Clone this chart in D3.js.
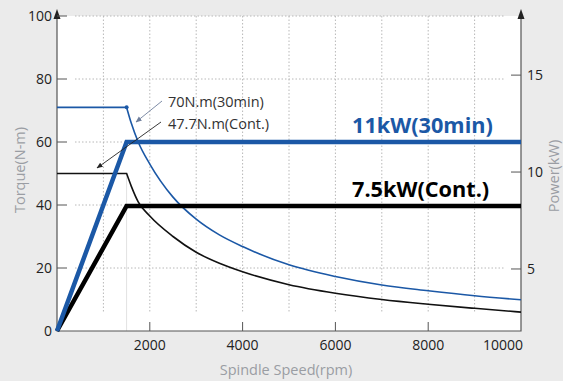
<!DOCTYPE html>
<html>
<head>
<meta charset="utf-8">
<script src="https://cdn.jsdelivr.net/npm/d3@7"></script>
<style>
  body { margin: 0; background: #ebebeb; }
  svg { display: block; font-family: "Open Sans", "Noto Sans", sans-serif; }
</style>
</head>
<body>
<svg id="chart" width="563" height="381"></svg>
<script>
// speed (rpm) for the torque curves
const speeds = [0, 1500, 1600, 1750, 2000, 2500, 3000, 3500, 4000, 5000, 6000, 7000, 8000, 9000, 10000];
// torque 30min (N-m)
const torque30 = [71, 71, 66, 60, 53, 42.5, 35.5, 30.5, 26.8, 21, 17.3, 14.6, 12.8, 11.2, 9.9];
// torque continuous (N-m)
const torqueCont = [50, 50, 46, 41, 36.5, 30, 25, 21.5, 18.8, 14.7, 12, 10, 8.5, 7.2, 6];

// power lines (kW, on right axis as drawn)
const powerSpeeds = [0, 1500, 10000];
const power30 = [1.8, 11.55, 11.55];
const powerCont = [1.8, 8.25, 8.25];

const xTicks = [2000, 4000, 6000, 8000, 10000];
const xGrid = [1000, 2000, 3000, 4000, 5000, 6000, 7000, 8000, 9000];
const yTicks = [0, 20, 40, 60, 80, 100];
const pTicks = [5, 10, 15];

const blue = '#1b58a6';

const svg = d3.select('#chart');
const mLeft = 57, mRight = 521, mTop = 16, mBottom = 331;

const x = d3.scaleLinear().domain([0, 10000]).range([mLeft, mRight]);
const y = d3.scaleLinear().domain([0, 100]).range([mBottom, mTop]);
const yP = d3.scaleLinear().domain([1.8, 18.05]).range([mBottom, mTop]);

// plot area
svg.append('rect')
  .attr('x', mLeft).attr('y', mTop)
  .attr('width', mRight - mLeft).attr('height', mBottom - mTop)
  .attr('fill', '#fff');

// grid
svg.append('g').selectAll('line').data(xGrid).join('line')
  .attr('x1', d => x(d)).attr('x2', d => x(d))
  .attr('y1', mTop).attr('y2', 312)
  .attr('stroke', '#b8b8b8').attr('stroke-dasharray', '1.5,2');
svg.append('g').selectAll('line').data(yTicks.slice(1)).join('line')
  .attr('x1', 75).attr('x2', 505)
  .attr('y1', d => y(d)).attr('y2', d => y(d))
  .attr('stroke', '#b8b8b8').attr('stroke-dasharray', '1.5,2');

// base speed line
svg.append('line')
  .attr('x1', x(1500)).attr('x2', x(1500))
  .attr('y1', y(50)).attr('y2', mBottom)
  .attr('stroke', '#e2e2e2');

// axes
const axisColor = '#555';
svg.append('path')
  .attr('d', `M${mLeft},${mTop}V${mBottom}H${mRight}V${mTop}`)
  .attr('fill', 'none').attr('stroke', axisColor).attr('stroke-width', 1.2);
[mLeft, mRight].forEach(ax => {
  svg.append('path')
    .attr('d', `M${ax},${mTop - 7}L${ax - 3.5},${mTop + 3}L${ax + 3.5},${mTop + 3}Z`)
    .attr('fill', '#222');
});

// left ticks
const gy = svg.append('g');
gy.selectAll('line').data(yTicks.slice(1)).join('line')
  .attr('x1', mLeft).attr('x2', mLeft + 10)
  .attr('y1', d => y(d)).attr('y2', d => y(d))
  .attr('stroke', axisColor);
gy.selectAll('text').data(yTicks).join('text')
  .attr('x', mLeft - 5).attr('y', d => y(d) + 5)
  .attr('text-anchor', 'end').attr('font-size', 14).attr('fill', '#222')
  .text(d => d);

// right ticks
const gp = svg.append('g');
gp.selectAll('line').data(pTicks).join('line')
  .attr('x1', mRight - 10).attr('x2', mRight)
  .attr('y1', d => yP(d)).attr('y2', d => yP(d))
  .attr('stroke', axisColor);
gp.selectAll('text').data(pTicks).join('text')
  .attr('x', mRight + 6).attr('y', d => yP(d) + 5)
  .attr('font-size', 14).attr('fill', '#222')
  .text(d => d);

// bottom ticks
const gx = svg.append('g');
gx.selectAll('line').data(xTicks.slice(0, -1)).join('line')
  .attr('x1', d => x(d)).attr('x2', d => x(d))
  .attr('y1', mBottom - 9).attr('y2', mBottom)
  .attr('stroke', axisColor);
gx.selectAll('text').data(xTicks).join('text')
  .attr('x', d => d === 10000 ? x(d) + 2 : x(d))
  .attr('y', 350)
  .attr('text-anchor', d => d === 10000 ? 'end' : 'middle')
  .attr('font-size', 14).attr('fill', '#222')
  .text(d => d);

// axis titles
svg.append('text')
  .attr('transform', 'translate(25,170) rotate(-90)')
  .attr('text-anchor', 'middle').attr('font-size', 14.5).attr('fill', '#9a9da3')
  .text('Torque(N-m)');
svg.append('text')
  .attr('transform', 'translate(559,176) rotate(-90)')
  .attr('text-anchor', 'middle').attr('font-size', 14.5).attr('fill', '#9a9da3')
  .text('Power(kW)');
svg.append('text')
  .attr('x', 286).attr('y', 375)
  .attr('text-anchor', 'middle').attr('font-size', 14.5).attr('fill', '#9a9da3')
  .text('Spindle Speed(rpm)');

// torque curves: flat part straight, falling part smoothed
function torquePath(vals) {
  const pts = d3.zip(speeds, vals);
  const flat = d3.line().x(d => x(d[0])).y(d => y(d[1]))(pts.slice(0, 2));
  const fall = d3.line().x(d => x(d[0])).y(d => y(d[1])).curve(d3.curveMonotoneX)(pts.slice(1));
  return flat + fall.replace(/^M/, 'L');
}
svg.append('path')
  .attr('d', torquePath(torqueCont))
  .attr('fill', 'none').attr('stroke', '#111').attr('stroke-width', 1.6);
svg.append('path')
  .attr('d', torquePath(torque30))
  .attr('fill', 'none').attr('stroke', blue).attr('stroke-width', 1.6);
svg.append('circle')
  .attr('cx', x(speeds[1])).attr('cy', y(torque30[1])).attr('r', 2)
  .attr('fill', blue);

// power lines
const pLine = d3.line().x(d => x(d[0])).y(d => yP(d[1]));
svg.append('path')
  .attr('d', pLine(d3.zip(powerSpeeds, powerCont)))
  .attr('fill', 'none').attr('stroke', '#000').attr('stroke-width', 4.5);
svg.append('path')
  .attr('d', pLine(d3.zip(powerSpeeds, power30)))
  .attr('fill', 'none').attr('stroke', blue).attr('stroke-width', 4.5);

// annotations
const defs = svg.append('defs');
[['arrBlue', '#6f7f9c'], ['arrBlack', '#222']].forEach(([id, c]) => {
  defs.append('marker').attr('id', id)
    .attr('viewBox', '0 0 10 10').attr('refX', 9).attr('refY', 5)
    .attr('markerWidth', 7).attr('markerHeight', 7).attr('orient', 'auto')
    .append('path').attr('d', 'M0,1L10,5L0,9Z').attr('fill', c);
});
svg.append('line')
  .attr('x1', 162).attr('y1', 101).attr('x2', 136).attr('y2', 122)
  .attr('stroke', '#6f7f9c').attr('stroke-width', 0.9).attr('marker-end', 'url(#arrBlue)');
svg.append('line')
  .attr('x1', 161).attr('y1', 122).attr('x2', 97).attr('y2', 168)
  .attr('stroke', '#222').attr('stroke-width', 0.9).attr('marker-end', 'url(#arrBlack)');

svg.append('text').attr('x', 168).attr('y', 107)
  .attr('font-size', 14.5).attr('fill', '#333').text('70N.m(30min)');
svg.append('text').attr('x', 168).attr('y', 129)
  .attr('font-size', 14.5).attr('fill', '#333').text('47.7N.m(Cont.)');

svg.append('text').attr('x', 352).attr('y', 133)
  .attr('font-size', 21.7).attr('font-weight', 'bold').attr('fill', blue)
  .text('11kW(30min)');
svg.append('text').attr('x', 352).attr('y', 197)
  .attr('font-size', 21.7).attr('font-weight', 'bold').attr('fill', '#000')
  .text('7.5kW(Cont.)');
</script>
</body>
</html>
